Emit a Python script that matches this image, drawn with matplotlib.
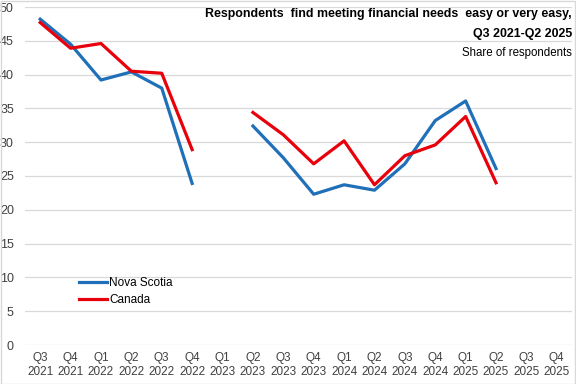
import numpy as np
import matplotlib.pyplot as plt

quarters = ["Q3\n2021", "Q4\n2021", "Q1\n2022", "Q2\n2022", "Q3\n2022", "Q4\n2022",
            "Q1\n2023", "Q2\n2023", "Q3\n2023", "Q4\n2023", "Q1\n2024", "Q2\n2024",
            "Q3\n2024", "Q4\n2024", "Q1\n2025", "Q2\n2025", "Q3\n2025", "Q4\n2025"]
nan = np.nan
nova_scotia = [48.2, 44.5, 39.2, 40.4, 38.0, 23.9, nan, 32.4, 27.7, 22.3, 23.7, 22.9,
               26.8, 33.2, 36.1, 26.1, nan, nan]
canada = [47.7, 43.9, 44.6, 40.5, 40.2, 28.9, nan, 34.4, 31.1, 26.8, 30.2, 23.7,
          28.0, 29.6, 33.8, 24.0, nan, nan]

plt.rcParams['font.family'] = ['Liberation Sans', 'DejaVu Sans']

fig = plt.figure(figsize=(5.76, 3.84), dpi=100)
ax = fig.add_axes([25 / 576, 1 - 345 / 384, 547 / 576, 338 / 384])

x = np.arange(len(quarters))
ax.plot(x, nova_scotia, color='#1f70b8', lw=2.3, label='Nova Scotia')
ax.plot(x, canada, color='#e8000b', lw=2.3, label='Canada')

ax.set_xlim(-0.5, len(quarters) - 0.5)
ax.set_ylim(0, 50)
ax.set_yticks(range(0, 51, 5))
ax.set_xticks(x)
ax.set_xticklabels(quarters, fontsize=8.5, color='#404040', linespacing=1.25)
ax.tick_params(axis='y', labelsize=9, colors='#404040', length=0, pad=8)
ax.tick_params(axis='x', length=0, pad=5)
ax.grid(axis='y', color='#d9d9d9', lw=0.9)
ax.set_axisbelow(True)
for s in ax.spines.values():
    s.set_visible(False)

ax.legend(loc='upper left', bbox_to_anchor=(0.09, 0.215), frameon=False, fontsize=8.5,
          handlelength=2.4, handletextpad=0.15, labelspacing=0.45, borderaxespad=0)

fig.text(0.993, 0.978, "Respondents  find meeting financial needs  easy or very easy,",
         ha='right', va='top', fontsize=8.9, fontweight='bold')
fig.text(0.993, 0.928, "Q3 2021-Q2 2025", ha='right', va='top', fontsize=8.9,
         fontweight='bold')
fig.text(0.993, 0.877, "Share of respondents", ha='right', va='top', fontsize=8.3)

fig.patches.append(plt.Rectangle((0.001, 0.001), 0.997, 0.997, transform=fig.transFigure,
                                 fill=False, edgecolor='#d9d9d9', lw=1))

fig.savefig('out.png', dpi=100)
